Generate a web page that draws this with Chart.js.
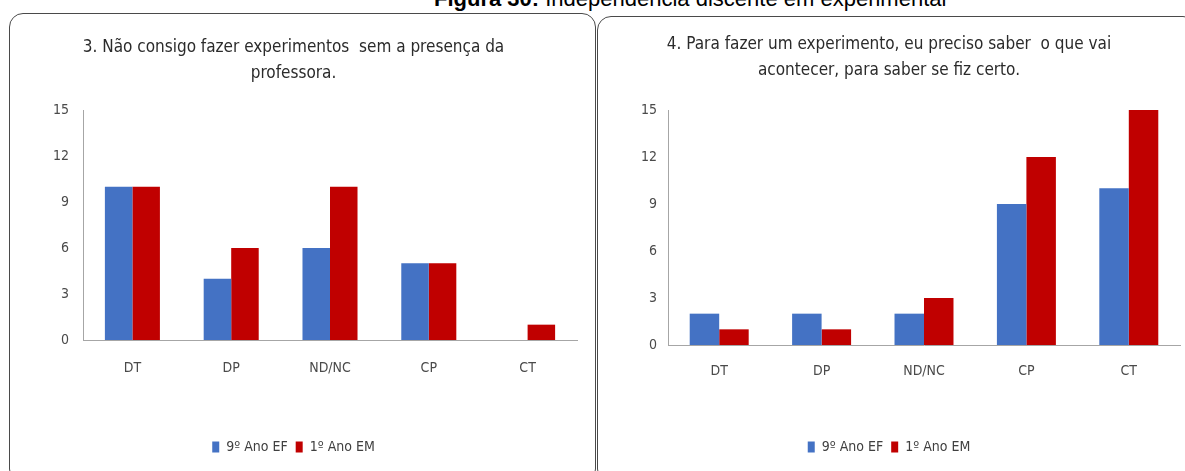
<!DOCTYPE html>
<html>
<head>
<meta charset="utf-8">
<script src="https://cdn.jsdelivr.net/npm/chart.js@4.4.0/dist/chart.umd.min.js"></script>
<style>
  html, body { margin: 0; padding: 0; background: #fff; }
  body { width: 1185px; height: 471px; position: relative; overflow: hidden; }
  .panel { position: absolute; border: 1.5px solid #4a4a4a; border-radius: 14px; box-sizing: border-box; }
  #figTitle { position: absolute; left: 434px; top: -12px; font: 22px "Liberation Sans", Arial, sans-serif; line-height: 22px; color: #000; white-space: nowrap; }
  canvas { position: absolute; }
</style>
</head>
<body>
<div class="panel" style="left:9px; top:13px; width:587px; height:470px;"></div>
<div class="panel" style="left:597px; top:16px; width:600px; height:467px;"></div>
<div id="figTitle"><b>Figura 30:</b> Independência discente em experimental</div>
<canvas id="c1" width="584" height="457" style="left:10px; top:14px;"></canvas>
<canvas id="c2" width="587" height="455" style="left:598px; top:16px;"></canvas>
<script>
const categories = ['DT', 'DP', 'ND/NC', 'CP', 'CT'];
const seriesNames = ['9º Ano EF', '1º Ano EM'];
const q3Ano9EF = [10, 4, 6, 5, 0];
const q3Ano1EM = [10, 6, 10, 5, 1];
const q4Ano9EF = [2, 2, 2, 9, 10];
const q4Ano1EM = [1, 1, 3, 12, 15];
const yTickValues = [0, 3, 6, 9, 12, 15];
const q3Title = ['3. Não consigo fazer experimentos  sem a presença da', 'professora.'];
const q4Title = ['4. Para fazer um experimento, eu preciso saber  o que vai', 'acontecer, para saber se fiz certo.'];

const FONT = "'DejaVu Sans Condensed', 'Liberation Sans Narrow', sans-serif";
const BLUE = '#4472C4';
const RED = '#C00000';

function makeChart(id, title, s1, s2, g) {
  return new Chart(document.getElementById(id), {
    type: 'bar',
    data: {
      labels: categories,
      datasets: [
        { label: seriesNames[0], data: s1, backgroundColor: BLUE, borderWidth: 0 },
        { label: seriesNames[1], data: s2, backgroundColor: RED, borderWidth: 0 }
      ]
    },
    options: {
      responsive: false,
      animation: false,
      devicePixelRatio: 1,
      categoryPercentage: g.catPct,
      barPercentage: 1,
      layout: { padding: { left: 0, right: g.padRight, top: 0, bottom: g.padBottom } },
      plugins: {
        tooltip: { enabled: false },
        title: {
          display: true,
          text: title,
          color: '#2b2b2b',
          font: { family: FONT, size: 17, weight: 'normal', lineHeight: 26 / 17 },
          padding: { top: g.titleTop, bottom: g.titleBottom }
        },
        legend: {
          position: 'bottom',
          labels: {
            boxWidth: 7, boxHeight: 11, padding: 8,
            color: '#404040',
            font: { family: FONT, size: 14 }
          }
        }
      },
      scales: {
        x: {
          grid: { display: false },
          border: { display: true, color: '#a6a6a6', width: 1 },
          ticks: { color: '#4a4a4a', padding: g.xPad, font: { family: FONT, size: 14 } },
          afterFit: (s) => { s.height = g.xHeight; }
        },
        y: {
          min: yTickValues[0],
          max: yTickValues[yTickValues.length - 1],
          afterBuildTicks: (s) => { s.ticks = yTickValues.map(v => ({ value: v })); },
          grid: { display: false },
          border: { display: true, color: '#a6a6a6', width: 1 },
          ticks: { color: '#4a4a4a', padding: g.yPad, font: { family: FONT, size: 14 } },
          afterFit: (s) => { s.width = g.yWidth; }
        }
      }
    }
  });
}

makeChart('c1', q3Title, q3Ano9EF, q3Ano1EM, {
  catPct: 0.557, padRight: 17, padBottom: 7, titleTop: 21, titleBottom: 23,
  xPad: 12, xHeight: 92, yPad: 6, yWidth: 73
});
makeChart('c2', q4Title, q4Ano9EF, q4Ano1EM, {
  catPct: 0.576, padRight: 5, padBottom: 7, titleTop: 16, titleBottom: 26,
  xPad: 10, xHeight: 87, yPad: 3, yWidth: 70
});
</script>
</body>
</html>
